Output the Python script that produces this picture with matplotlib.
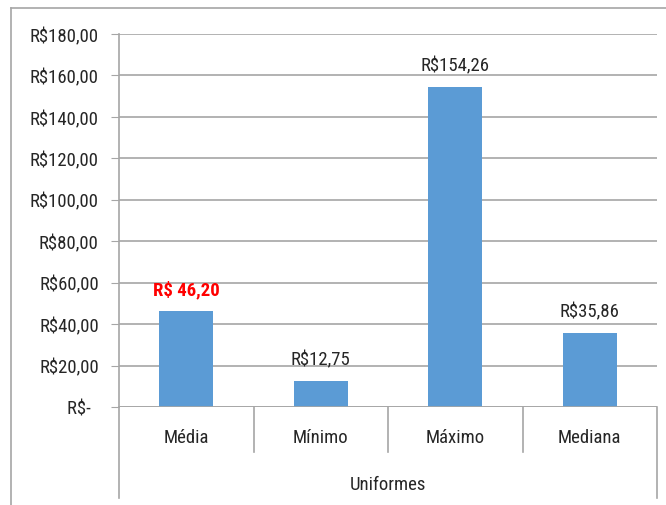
import matplotlib
matplotlib.use("Agg")
import matplotlib.pyplot as plt
from matplotlib.lines import Line2D
from matplotlib import font_manager

names = {f.name for f in font_manager.fontManager.ttflist}
pref = ['Liberation Sans Narrow', 'DejaVu Sans Condensed', 'Roboto Condensed',
        'Open Sans Condensed', 'Lato']
chosen = [n for n in pref if n in names][:1]
plt.rcParams['font.family'] = chosen + ['DejaVu Sans']

categories = ["Média", "Mínimo", "Máximo", "Mediana"]
values = [46.20, 12.75, 154.26, 35.86]
value_labels = ["R$ 46,20", "R$12,75", "R$154,26", "R$35,86"]
group_label = "Uniformes"
yticks = [0, 20, 40, 60, 80, 100, 120, 140, 160, 180]
ytick_labels = ["R$-  ", "R$20,00", "R$40,00", "R$60,00", "R$80,00", "R$100,00",
                "R$120,00", "R$140,00", "R$160,00", "R$180,00"]

W, H = 666, 506
fig = plt.figure(figsize=(W/100, H/100), dpi=100)
ax = fig.add_axes([119/W, 1-408/H, (657-119)/W, (408-35)/H])

bar_color = "#5B9BD5"
grid_color = "#A6A6A6"
text_color = "#262626"
fs = 13.5

x = list(range(len(categories)))
ax.bar(x, values, width=0.4, color=bar_color, zorder=3)
ax.set_xlim(-0.5, len(categories)-0.5)
ax.set_ylim(0, 180)
ax.set_yticks(yticks)
ax.set_yticklabels(ytick_labels, fontsize=fs, color=text_color)
ax.tick_params(axis='y', length=6, color=grid_color, pad=8.5)
ax.set_xticks([])
ax.yaxis.grid(True, color=grid_color, linewidth=1.2, zorder=0)
for s in ['top', 'right', 'bottom']:
    ax.spines[s].set_visible(False)
ax.spines['left'].set_color(grid_color)
ax.spines['left'].set_linewidth(1.2)
ax.axhline(0, color=grid_color, linewidth=1.2, zorder=4)

for i, (v, lab) in enumerate(zip(values, value_labels)):
    if i == 0:
        ax.annotate(lab, (i, v), xytext=(0, 9), textcoords='offset points',
                    ha='center', va='bottom', fontsize=fs, color='#FF0000', fontweight='bold')
    else:
        ax.annotate(lab, (i, v), xytext=(0, 9), textcoords='offset points',
                    ha='center', va='bottom', fontsize=fs, color=text_color)

ph = 408 - 35
tr = ax.get_xaxis_transform()
for b in [0.5, 1.5, 2.5]:
    ax.plot([b, b], [0, -45/ph], transform=tr, color=grid_color, lw=1.2, clip_on=False)
for b in [-0.5, len(categories)-0.5]:
    ax.plot([b, b], [0, -91/ph], transform=tr, color=grid_color, lw=1.2, clip_on=False)
for i, c in enumerate(categories):
    ax.text(i, -30/ph, c, transform=tr, ha='center', va='center', fontsize=fs, color=text_color)
ax.text((len(categories)-1)/2, -77/ph, group_label, transform=tr, ha='center', va='center',
        fontsize=fs, color=text_color)

fig.add_artist(Line2D([11/W, 1.0], [1-9/H, 1-9/H], transform=fig.transFigure, color=grid_color, lw=1.2))
fig.add_artist(Line2D([11/W, 11/W], [0, 1-9/H], transform=fig.transFigure, color=grid_color, lw=1.2))

fig.savefig("out.png", dpi=100)
